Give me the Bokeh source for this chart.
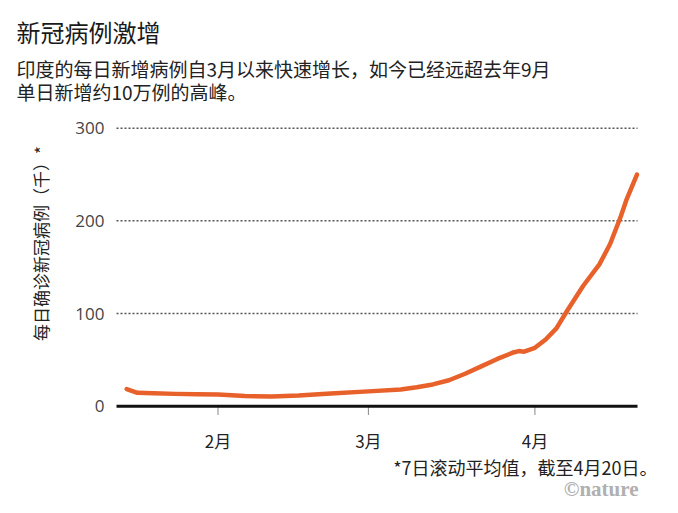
import math
import pandas as pd
from bokeh.plotting import figure
from bokeh.models import Range1d, Label, ColumnDataSource
from bokeh.core.properties import value
from bokeh.embed import file_html
from bokeh.resources import INLINE

# ---- data (7-day rolling average of daily new cases, thousands) ----
dates = ["2021-01-15", "2021-01-17", "2021-01-20", "2021-01-24", "2021-01-28",
         "2021-02-01", "2021-02-06", "2021-02-11", "2021-02-16", "2021-02-22",
         "2021-03-01", "2021-03-07", "2021-03-10", "2021-03-13", "2021-03-16",
         "2021-03-19", "2021-03-22", "2021-03-25", "2021-03-28", "2021-03-29",
         "2021-03-30", "2021-04-01", "2021-04-03", "2021-04-05", "2021-04-07",
         "2021-04-10", "2021-04-13", "2021-04-15", "2021-04-17", "2021-04-18",
         "2021-04-20"]
cases = [18.5, 14.5, 14.0, 13.3, 13.0,
         12.6, 11.0, 10.5, 11.6, 13.7,
         16.0, 18.0, 20.5, 23.5, 28.0,
         35.0, 43.0, 51.0, 58.0, 59.5,
         58.8, 63.0, 72.0, 84.0, 103.0,
         130.0, 153.0, 175.0, 205.0, 222.0,
         250.0]
month_ticks = ["2021-02-01", "2021-03-01", "2021-04-01"]
month_labels = ["2月", "3月", "4月"]
y_ticks = [0, 100, 200, 300]
y_labels = ["0", "100", "200", "300"]
grid_ticks = [100, 200, 300]

title_text = "新冠病例激增"
subtitle_1 = "印度的每日新增病例自3月以来快速增长，如今已经远超去年9月"
subtitle_2 = "单日新增约10万例的高峰。"
y_title = "每日确诊新冠病例（千）*"
footnote = "*7日滚动平均值，截至4月20日。"
credit = "©nature"

DAY = 86400000.0
def ms(d):
    return pd.Timestamp(d).value / 1e6

W, H = 678, 513

# axis extent (data) and where it sits on the canvas (pixels)
x_start = ms("2021-01-13") + 0.1 * DAY
x_end = ms("2021-04-20") + 0.1 * DAY
px_left, px_right = 116.0, 637.0
y_zero_px, y_300_px = 405.7, 127.7

xs = (x_end - x_start) / (px_right - px_left)          # ms per pixel
x0 = x_start - px_left * xs
x1 = x_end + (W - px_right) * xs
ys = 300.0 / (y_zero_px - y_300_px)                     # units per pixel
y1 = y_zero_px * ys
y0 = -(H - y_zero_px) * ys

def xpx(px):   # canvas pixel -> data x
    return x0 + px * xs
def ypx(py):   # canvas pixel (from top) -> data y
    return y1 - py * ys

p = figure(width=W, height=H, output_backend="svg", toolbar_location=None,
           x_axis_location=None, y_axis_location=None,
           x_range=Range1d(x0, x1), y_range=Range1d(y0, y1),
           min_border=0)
p.min_border_left = p.min_border_right = p.min_border_top = p.min_border_bottom = 0
p.outline_line_color = None
p.background_fill_color = "white"
p.border_fill_color = "white"
p.grid.visible = False

# dotted gridlines
p.segment(x0=[x_start] * len(grid_ticks), x1=[x_end] * len(grid_ticks),
          y0=grid_ticks, y1=grid_ticks, line_color="#555555", line_width=1.5,
          line_dash="2 2")

# month ticks
mt = [ms(d) for d in month_ticks]
p.segment(x0=mt, x1=mt, y0=[0] * len(mt), y1=[ypx(414.5)] * len(mt),
          line_color="#888888", line_width=1)

# baseline
p.segment(x0=[x_start], x1=[x_end], y0=[0], y1=[0], line_color="#111111", line_width=3)

# tick labels
p.text(x=mt, y=[ypx(440)] * len(mt), text=month_labels,
       text_font=value("Noto Sans CJK SC"), text_font_size="17px", text_color="#222222",
       text_align="center", text_baseline="middle")
p.text(x=[xpx(104)] * len(y_ticks), y=y_ticks, text=y_labels,
       text_font=value("Open Sans"), text_font_size="17px", text_color="#444444",
       text_align="right", text_baseline="middle")

# data line
src = ColumnDataSource(dict(x=[ms(d) for d in dates], y=cases))
p.line("x", "y", source=src, line_color="#e8602a", line_width=4.5,
       line_cap="round", line_join="round")

def lab(text, ax, ay, **kw):
    p.add_layout(Label(x=ax, y=H - ay, x_units="screen", y_units="screen",
                       text=text, **kw))

cjk = "Noto Sans CJK SC"
lab(title_text, 16, 31, text_font=cjk, text_font_size="24px", text_color="#1a1a1a",
    text_baseline="middle", text_align="left")
lab(subtitle_1, 16, 68, text_font=cjk, text_font_size="19px", text_color="#222222",
    text_baseline="middle", text_align="left")
lab(subtitle_2, 16, 91, text_font=cjk, text_font_size="19px", text_color="#222222",
    text_baseline="middle", text_align="left")
lab(y_title, 40, 243, text_font=cjk, text_font_size="17px", text_color="#222222",
    text_baseline="middle", text_align="center", angle=math.pi / 2)
lab(footnote, 657, 466, text_font=cjk, text_font_size="18px", text_color="#222222",
    text_baseline="middle", text_align="right")
lab(credit, 638, 488, text_font="Liberation Serif", text_font_size="21px",
    text_font_style="bold", text_color="#b0b0b0", text_baseline="middle", text_align="right")

open("out.html", "w").write(file_html(p, INLINE))
